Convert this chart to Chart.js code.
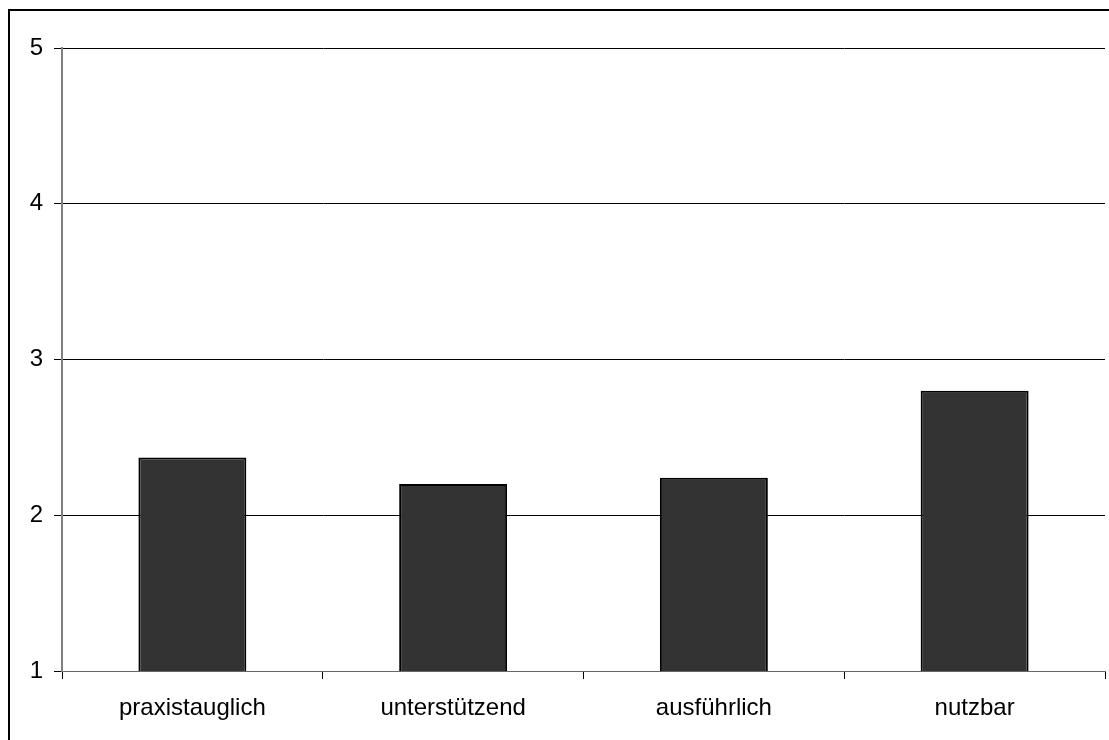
<!DOCTYPE html>
<html>
<head>
<meta charset="utf-8">
<script src="https://cdn.jsdelivr.net/npm/chart.js@4/dist/chart.umd.min.js"></script>
<style>
  html, body { margin: 0; padding: 0; background: #ffffff; }
  #wrap { width: 1109px; height: 740px; }
</style>
</head>
<body>
<div id="wrap"><canvas id="chart" width="1109" height="740"></canvas></div>
<script>
// Rating categories and mean scores (scale 1–5)
const categories = ['praxistauglich', 'unterstützend', 'ausführlich', 'nutzbar'];
const scores = [2.37, 2.20, 2.24, 2.80];
const yTicks = [1, 2, 3, 4, 5];

const FONT = { family: 'Arial, "Liberation Sans", sans-serif', size: 24 };

// Outer frame around the chart object
const framePlugin = {
  id: 'frame',
  beforeDraw(chart) {
    const ctx = chart.ctx;
    ctx.save();
    ctx.fillStyle = '#ffffff';
    ctx.fillRect(0, 0, chart.width, chart.height);
    ctx.strokeStyle = '#000000';
    ctx.lineWidth = 2;
    ctx.strokeRect(9, 10, chart.width + 20, chart.height + 20);
    ctx.restore();
  }
};

new Chart(document.getElementById('chart'), {
  type: 'bar',
  data: {
    labels: categories,
    datasets: [{
      data: scores,
      backgroundColor: '#333333',
      borderColor: '#000000',
      borderWidth: 2,
      categoryPercentage: 1.0,
      barPercentage: 0.414
    }]
  },
  options: {
    responsive: false,
    animation: false,
    devicePixelRatio: 1,
    layout: { padding: { left: 0, top: 48, right: 4, bottom: 0 } },
    plugins: {
      legend: { display: false },
      tooltip: { enabled: false }
    },
    scales: {
      x: {
        offset: true,
        grid: {
          offset: true,
          drawOnChartArea: false,
          drawTicks: true,
          tickLength: 8,
          tickColor: '#000000',
          lineWidth: 1
        },
        border: { display: true, color: '#666666', width: 1 },
        ticks: { color: '#000000', font: FONT, padding: 15, maxRotation: 0, autoSkip: false },
        afterFit(scale) { scale.height = 69; }
      },
      y: {
        min: yTicks[0],
        max: yTicks[yTicks.length - 1],
        afterBuildTicks(scale) { scale.ticks = yTicks.map(v => ({ value: v })); },
        grid: {
          color: '#000000',
          lineWidth: 1,
          drawTicks: true,
          tickLength: 8,
          tickColor: '#000000'
        },
        border: { display: true, color: '#808080', width: 2 },
        ticks: { color: '#000000', font: FONT, padding: 11, stepSize: 1 },
        afterFit(scale) { scale.width = 62; }
      }
    }
  },
  plugins: [framePlugin]
});
</script>
</body>
</html>
